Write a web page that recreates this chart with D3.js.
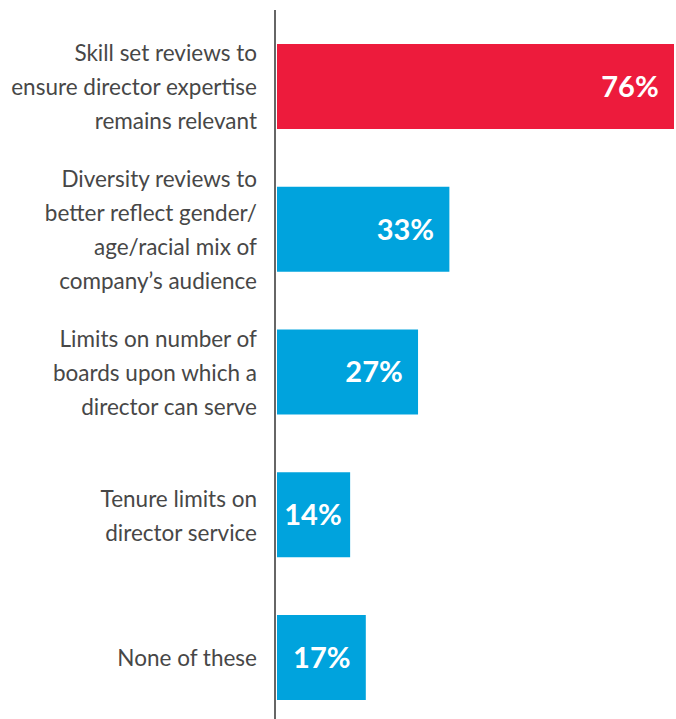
<!DOCTYPE html>
<html>
<head>
<meta charset="utf-8">
<script src="https://cdn.jsdelivr.net/npm/d3@7"></script>
<style>
  html, body { margin: 0; padding: 0; background: #fff; }
  svg { display: block; }
</style>
</head>
<body>
<svg id="chart" width="676" height="719"></svg>
<script>
// Board practices — share of respondents
const categories = [
  "Skill set reviews to ensure director expertise remains relevant",
  "Diversity reviews to better reflect gender/age/racial mix of company's audience",
  "Limits on number of boards upon which a director can serve",
  "Tenure limits on director service",
  "None of these"
];
const categoryLines = [
  ["Skill set reviews to", "ensure director expertise", "remains relevant"],
  ["Diversity reviews to", "better reflect gender/", "age/racial mix of", "company\u2019s audience"],
  ["Limits on number of", "boards upon which a", "director can serve"],
  ["Tenure limits on", "director service"],
  ["None of these"]
];
const values = [76, 33, 27, 14, 17];
const valueLabels = ["76%", "33%", "27%", "14%", "17%"];
const highlighted = [true, false, false, false, false];

const RED = "#ed1b3c";
const BLUE = "#00a3dd";
const TEXT = "#474747";
const FONT = "Lato, 'Open Sans', sans-serif";

const svg = d3.select("#chart");
const axisX = 275;

const x = d3.scaleLinear().domain([0, 76]).range([277, 674]);
const y = d3.scaleBand().domain(categories).range([44, 700]).paddingInner(0.4046).paddingOuter(0);

// bars
svg.selectAll("rect.bar")
  .data(categories)
  .join("rect")
  .attr("class", "bar")
  .attr("x", x(0))
  .attr("y", d => y(d))
  .attr("width", (d, i) => x(values[i]) - x(0))
  .attr("height", y.bandwidth())
  .attr("fill", (d, i) => highlighted[i] ? RED : BLUE);

// vertical baseline
svg.append("line")
  .attr("x1", axisX).attr("x2", axisX)
  .attr("y1", 10).attr("y2", 719)
  .attr("stroke", "#666").attr("stroke-width", 2);

// value labels inside bars
svg.selectAll("text.value")
  .data(categories)
  .join("text")
  .attr("class", "value")
  .attr("x", (d, i) => Math.max(x(values[i]) - 44, x(0) + 36))
  .attr("y", d => y(d) + y.bandwidth() / 2)
  .attr("dy", "0.36em")
  .attr("text-anchor", "middle")
  .attr("fill", "#fff")
  .attr("font-family", FONT)
  .attr("font-weight", 700)
  .attr("font-size", 29)
  .text((d, i) => valueLabels[i]);

// category labels, right aligned against the baseline
const lineH = 34;
const labels = svg.selectAll("text.cat")
  .data(categories)
  .join("text")
  .attr("class", "cat")
  .attr("text-anchor", "end")
  .attr("fill", TEXT)
  .attr("font-family", FONT)
  .attr("font-size", 22.5);

labels.each(function (d, i) {
  const lines = categoryLines[i];
  const cy = y(d) + y.bandwidth() / 2 + 1;
  const first = cy - (lines.length - 1) * lineH / 2;
  d3.select(this).selectAll("tspan")
    .data(lines)
    .join("tspan")
    .attr("x", 257)
    .attr("y", (l, j) => first + j * lineH)
    .attr("dy", "0.35em")
    .text(l => l);
});
</script>
</body>
</html>
